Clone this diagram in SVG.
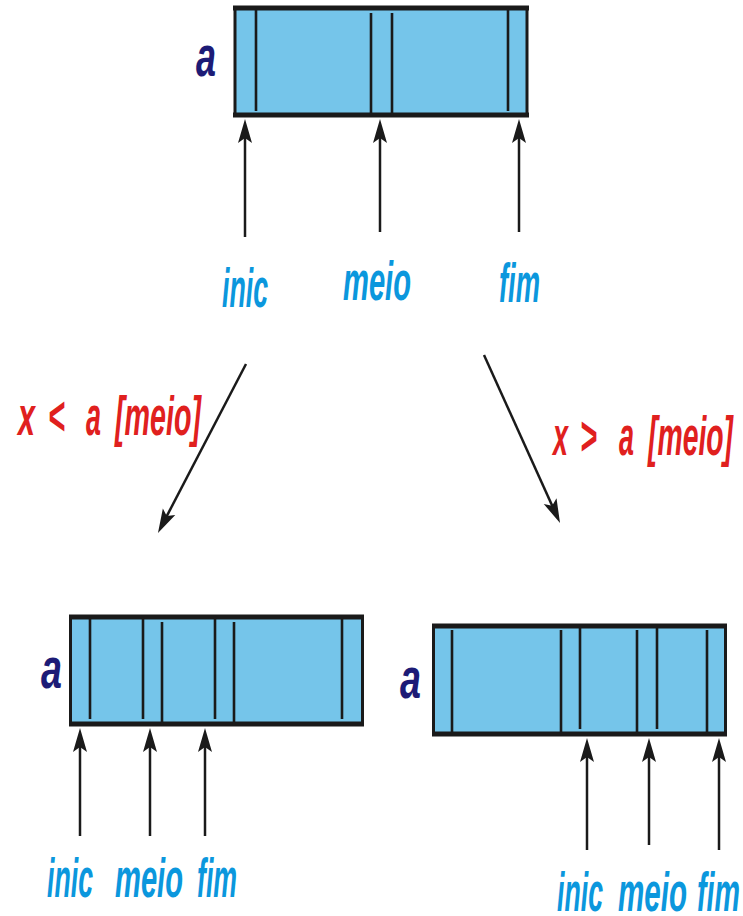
<svg xmlns="http://www.w3.org/2000/svg" width="743" height="916" viewBox="0 0 743 916">
<style>
.box{fill:#75C5EA;stroke:#1a1a1a;stroke-width:3}
.edge{stroke:#1a1a1a;stroke-width:5}
.div{stroke:#1a1a1a;stroke-width:2.6}
.arr{stroke:#1a1a1a;stroke-width:2.5;fill:none;marker-end:url(#ah)}
.lbl{font-family:"Liberation Sans",Arial,sans-serif;font-style:italic;font-weight:bold;font-size:56px;fill:#0B97DD}
.arr-a{font-family:"Liberation Sans",Arial,sans-serif;font-style:italic;font-weight:bold;font-size:58px;fill:#1D1B76}
.cond{font-family:"Liberation Sans",Arial,sans-serif;font-style:italic;font-weight:bold;font-size:56px;fill:#E0201E}
</style>
<defs>
<marker id="ah" viewBox="-16 -9 28 18" refX="0" refY="0" markerWidth="28" markerHeight="18" markerUnits="userSpaceOnUse" orient="auto">
<path d="M10,0 L-14,-7 L-9,0 L-14,7 Z" fill="#1a1a1a"/>
</marker>
</defs>
<rect width="743" height="916" fill="#ffffff"/>

<g id="array-top">
<rect class="box" x="235" y="8" width="292" height="107"/>
<line class="edge" x1="233" y1="8" x2="529" y2="8"/>
<line class="edge" x1="233" y1="115" x2="529" y2="115"/>
<line class="div" x1="256" y1="10" x2="256" y2="111"/>
<line class="div" x1="371" y1="13" x2="371" y2="116"/>
<line class="div" x1="392" y1="13" x2="392" y2="116"/>
<line class="div" x1="508" y1="10" x2="508" y2="111"/>
<text class="arr-a" x="196" y="76" textLength="20" lengthAdjust="spacingAndGlyphs">a</text>
</g>

<g id="array-left">
<rect class="box" x="70.5" y="617" width="292" height="107"/>
<line class="edge" x1="69" y1="617" x2="364" y2="617"/>
<line class="edge" x1="69" y1="724" x2="364" y2="724"/>
<line class="div" x1="90" y1="618" x2="90" y2="719"/>
<line class="div" x1="143" y1="618" x2="143" y2="719"/>
<line class="div" x1="162" y1="622" x2="162" y2="725"/>
<line class="div" x1="215" y1="618" x2="215" y2="719"/>
<line class="div" x1="234" y1="622" x2="234" y2="725"/>
<line class="div" x1="342" y1="618" x2="342" y2="719"/>
<text class="arr-a" x="41" y="688" textLength="21" lengthAdjust="spacingAndGlyphs">a</text>
</g>

<g id="array-right">
<rect class="box" x="433.5" y="626" width="292" height="108"/>
<line class="edge" x1="432" y1="626" x2="727" y2="626"/>
<line class="edge" x1="432" y1="734" x2="727" y2="734"/>
<line class="div" x1="452" y1="630" x2="452" y2="732"/>
<line class="div" x1="561" y1="630" x2="561" y2="733"/>
<line class="div" x1="580" y1="628" x2="580" y2="729"/>
<line class="div" x1="637" y1="630" x2="637" y2="733"/>
<line class="div" x1="657" y1="628" x2="657" y2="729"/>
<line class="div" x1="707" y1="630" x2="707" y2="733"/>
<text class="arr-a" x="400" y="698" textLength="21" lengthAdjust="spacingAndGlyphs">a</text>
</g>

<g id="labels-top">
<text class="lbl" x="222" y="307" textLength="46" lengthAdjust="spacingAndGlyphs">inic</text>
<text class="lbl" x="343" y="300" textLength="68" lengthAdjust="spacingAndGlyphs">meio</text>
<text class="lbl" x="499" y="302" textLength="41" lengthAdjust="spacingAndGlyphs">fim</text>
</g>

<g id="labels-left">
<text class="lbl" x="47" y="897" textLength="46" lengthAdjust="spacingAndGlyphs">inic</text>
<text class="lbl" x="115" y="897" textLength="68" lengthAdjust="spacingAndGlyphs">meio</text>
<text class="lbl" x="197" y="897" textLength="40" lengthAdjust="spacingAndGlyphs">fim</text>
</g>

<g id="labels-right">
<text class="lbl" x="557" y="911" textLength="46" lengthAdjust="spacingAndGlyphs">inic</text>
<text class="lbl" x="618" y="911" textLength="69" lengthAdjust="spacingAndGlyphs">meio</text>
<text class="lbl" x="697" y="911" textLength="43" lengthAdjust="spacingAndGlyphs">fim</text>
</g>

<g id="cond-left">
<text class="cond" x="18" y="435" textLength="17" lengthAdjust="spacingAndGlyphs">x</text>
<text class="cond" x="48" y="435" textLength="17" lengthAdjust="spacingAndGlyphs">&lt;</text>
<text class="cond" x="86" y="435" textLength="15" lengthAdjust="spacingAndGlyphs">a</text>
<text class="cond" x="115" y="435" textLength="86" lengthAdjust="spacingAndGlyphs">[meio]</text>
</g>

<g id="cond-right">
<text class="cond" x="553" y="455" textLength="15" lengthAdjust="spacingAndGlyphs">x</text>
<text class="cond" x="580" y="455" textLength="17" lengthAdjust="spacingAndGlyphs">&gt;</text>
<text class="cond" x="619" y="455" textLength="15" lengthAdjust="spacingAndGlyphs">a</text>
<text class="cond" x="648" y="455" textLength="85" lengthAdjust="spacingAndGlyphs">[meio]</text>
</g>

<g id="connectors">
<line class="arr" x1="245" y1="237" x2="245" y2="129"/>
<line class="arr" x1="380" y1="232" x2="380" y2="129"/>
<line class="arr" x1="519" y1="232" x2="519" y2="129"/>
<line class="arr" x1="246" y1="364" x2="162.6" y2="524.1"/>
<line class="arr" x1="484" y1="355" x2="555.9" y2="513.9"/>
<line class="arr" x1="80" y1="836" x2="80" y2="738"/>
<line class="arr" x1="150" y1="836" x2="150" y2="738"/>
<line class="arr" x1="205" y1="836" x2="205" y2="738"/>
<line class="arr" x1="587" y1="850" x2="587" y2="748"/>
<line class="arr" x1="649" y1="845" x2="649" y2="748"/>
<line class="arr" x1="719" y1="850" x2="719" y2="748"/>
</g>
</svg>
